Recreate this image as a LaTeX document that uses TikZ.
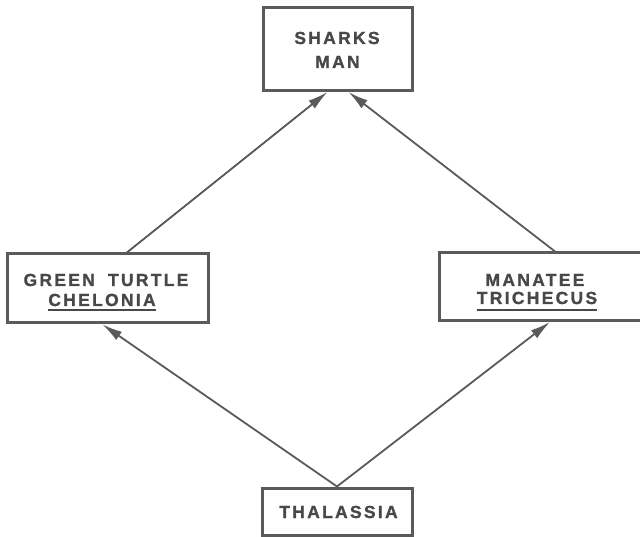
\documentclass[tikz,border=0pt]{standalone}
\usepackage{fontspec}
\setmainfont{Liberation Sans}[LetterSpace=13, BoldFeatures={FakeBold=1.2}]
\usetikzlibrary{arrows.meta}
\definecolor{ink}{HTML}{5A5A5A}
\definecolor{textink}{HTML}{484848}
\tikzset{
  box/.style={draw=ink, line width=3pt, fill=none, inner sep=0pt},
  lbl/.style={text=textink, inner sep=0pt, anchor=base,
    font=\bfseries\fontsize{17.5}{20}\selectfont},
  link/.style={draw=ink, line width=1.8pt,
    -{Latex[length=20pt,width=10pt]}},
  uline/.style={draw=textink, line width=2pt}
}
\begin{document}
\begin{tikzpicture}[x=1pt, y=-1pt]
  \clip (0,0) rectangle (640,537);
  \fill[white] (0,0) rectangle (640,537);

  % boxes
  \node[box, minimum width=149pt, minimum height=83pt] (top) at (337.5,49) {};
  \node[box, minimum width=201pt, minimum height=69pt] (turtle) at (107.5,288.5) {};
  \node[box, minimum width=230pt, minimum height=68pt, anchor=west] (manatee) at (438,287) {};
  \node[box, minimum width=150pt, minimum height=47pt] (thal) at (337,511.5) {};

  % labels
  \node[lbl] (sharks) at (337,44) {SHARKS};
  \node[lbl] (man) at (337.5,68) {MAN};
  \node[lbl] (green) at (106,286) {GREEN\hspace{6pt} TURTLE};
  \node[lbl] (chel) at (102,306) {CHELONIA};
  \node[lbl] (mana) at (535,286) {MANATEE};
  \node[lbl] (trich) at (537,304) {TRICHECUS};
  \node[lbl] (thaltxt) at (338.5,518) {THALASSIA};

  % underlined genus names
  \draw[uline] ([yshift=-4pt]chel.base west) -- ([yshift=-4pt]chel.base east);
  \draw[uline] ([yshift=-6pt]trich.base west) -- ([yshift=-6pt]trich.base east);

  % attachment points on the box edges
  \coordinate (tIn1) at ([xshift=-10pt]top.south);
  \coordinate (tIn2) at ([xshift=11pt]top.south);
  \coordinate (gIn) at ([xshift=-5pt]turtle.south);
  \coordinate (gOut) at (125,254);
  \coordinate (mIn) at (550,322);
  \coordinate (mOut) at (557,253);

  % connectors
  \draw[link] (thal.north) -- (gIn);
  \draw[link] (thal.north) -- (mIn);
  \draw[link] (gOut) -- (tIn1);
  \draw[link] (mOut) -- (tIn2);
\end{tikzpicture}
\end{document}
